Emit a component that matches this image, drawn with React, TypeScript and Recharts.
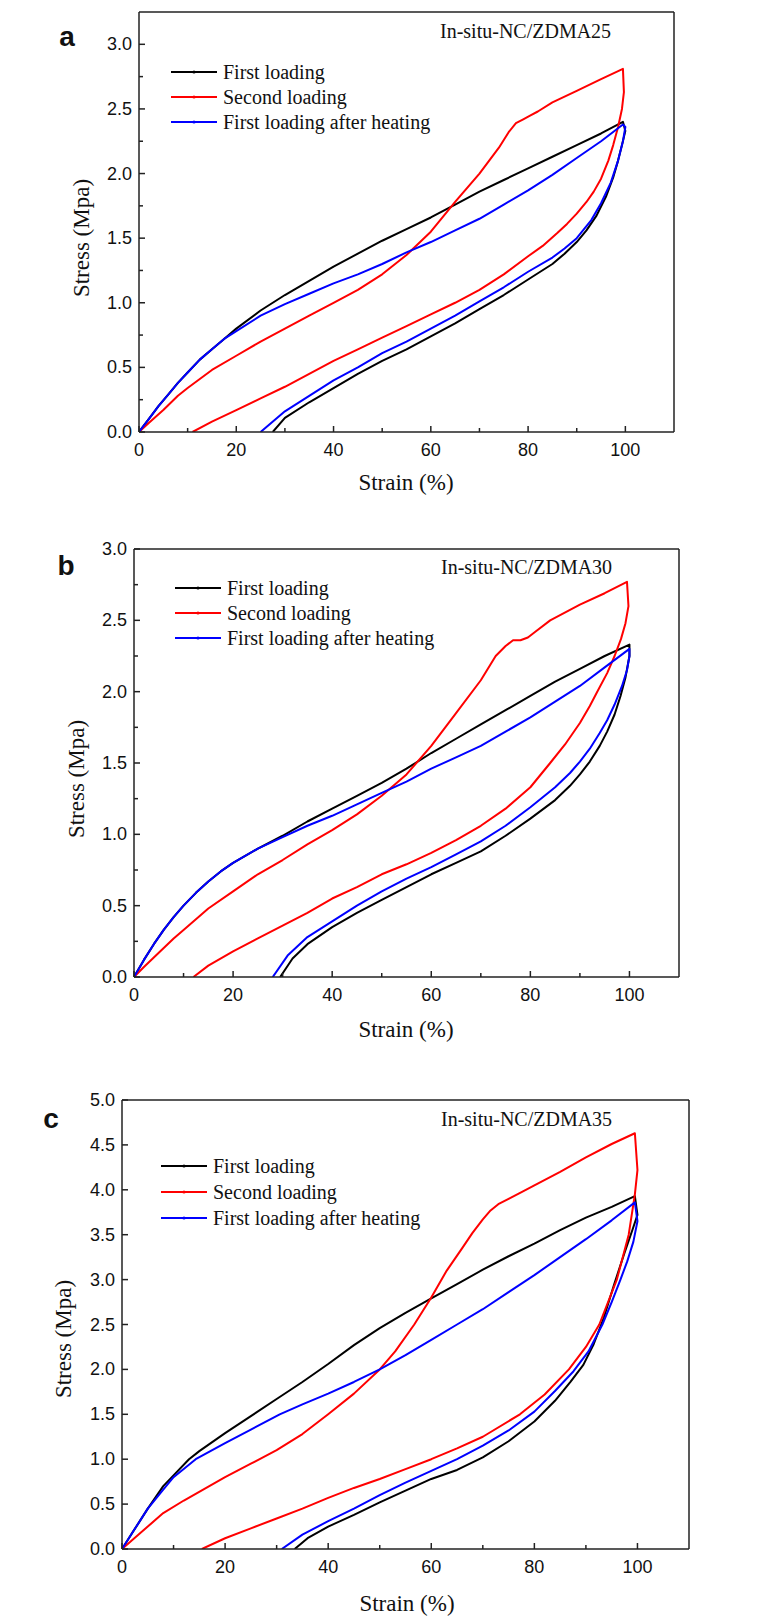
import React from "react";
import { LineChart, Line, XAxis, YAxis, ReferenceLine } from "recharts";

type Pt = [number, number];

// strain (%) / stress (MPa) pairs, loading then unloading
const A_FIRST: Pt[] = [
  [0, 0], [2, 0.1], [4, 0.2], [6, 0.29], [8, 0.38], [10, 0.46], [12.5, 0.56], [15, 0.64], [17.5, 0.72],
  [20, 0.8], [25, 0.94], [30, 1.06], [35, 1.17], [40, 1.28], [45, 1.38], [50, 1.48], [55, 1.57],
  [60, 1.66], [65, 1.76], [70, 1.86], [75, 1.95], [80, 2.04], [85, 2.13], [90, 2.22], [95, 2.31], [99.5, 2.4],
  [100, 2.33], [99.3, 2.22], [98.5, 2.1], [97.5, 1.97], [96, 1.82], [94, 1.67], [92, 1.56], [90, 1.47],
  [87.5, 1.38], [85, 1.3], [82.5, 1.24], [80, 1.18], [75, 1.06], [70, 0.95], [65, 0.84], [60, 0.74],
  [55, 0.64], [50, 0.55], [45, 0.45], [40, 0.34], [35, 0.23], [30, 0.11], [27.5, 0],
];
const A_SECOND: Pt[] = [
  [0, 0], [2, 0.07], [5, 0.17], [8, 0.28], [10, 0.34], [15, 0.48], [20, 0.59], [25, 0.7], [30, 0.8],
  [35, 0.9], [40, 1.0], [45, 1.1], [50, 1.22], [55, 1.37], [60, 1.55], [65, 1.78], [70, 2.0],
  [74, 2.2], [76, 2.32], [77.5, 2.39], [79, 2.42], [80.5, 2.45], [82, 2.48], [85, 2.55], [90, 2.64],
  [95, 2.73], [99.5, 2.81],
  [99.7, 2.63], [99.3, 2.5], [98.5, 2.36], [97.5, 2.22], [96.5, 2.1], [95, 1.96], [93.5, 1.86],
  [92, 1.78], [90, 1.69], [88, 1.61], [86, 1.54], [83, 1.44], [80, 1.36], [75, 1.22], [70, 1.1],
  [65, 1.0], [60, 0.91], [55, 0.82], [50, 0.73], [45, 0.64], [40, 0.55], [35, 0.45], [30, 0.35],
  [25, 0.26], [20, 0.17], [15, 0.08], [11, 0],
];
const A_HEATED: Pt[] = [
  [0, 0], [2, 0.1], [4, 0.2], [6, 0.29], [8, 0.38], [10, 0.46], [12.5, 0.56], [15, 0.64], [17.5, 0.72],
  [20, 0.78], [25, 0.9], [30, 0.99], [35, 1.07], [40, 1.15], [45, 1.22], [50, 1.3], [55, 1.39],
  [60, 1.47], [65, 1.56], [70, 1.65], [75, 1.76], [80, 1.87], [85, 1.99], [90, 2.12], [95, 2.25], [99.5, 2.38],
  [100, 2.36], [99.5, 2.25], [98.5, 2.1], [97, 1.93], [95, 1.77], [93, 1.64], [90, 1.5], [87.5, 1.42],
  [85, 1.35], [80, 1.24], [75, 1.12], [70, 1.01], [65, 0.9], [60, 0.8], [55, 0.7], [50, 0.61],
  [45, 0.5], [40, 0.4], [35, 0.28], [30, 0.16], [25, 0],
];

const B_FIRST: Pt[] = [
  [0, 0], [2, 0.12], [4, 0.23], [6, 0.33], [8, 0.42], [10, 0.5], [12.5, 0.59], [15, 0.67], [17.5, 0.74],
  [20, 0.8], [25, 0.9], [30, 0.99], [35, 1.09], [40, 1.18], [45, 1.27], [50, 1.36], [55, 1.46],
  [60, 1.57], [65, 1.67], [70, 1.77], [75, 1.87], [80, 1.97], [85, 2.07], [90, 2.16], [95, 2.25], [100, 2.33],
  [100, 2.25], [99.2, 2.1], [98.2, 1.97], [97, 1.84], [95.5, 1.72], [94, 1.62], [92, 1.51], [90, 1.42],
  [88, 1.34], [85, 1.24], [80, 1.11], [75, 0.99], [70, 0.88], [65, 0.8], [60, 0.72], [55, 0.63],
  [50, 0.54], [45, 0.45], [40, 0.35], [35, 0.23], [32, 0.13], [29.5, 0],
];
const B_SECOND: Pt[] = [
  [0, 0], [2, 0.07], [5, 0.17], [8, 0.27], [10, 0.33], [15, 0.48], [20, 0.6], [25, 0.72], [30, 0.82],
  [35, 0.93], [40, 1.03], [45, 1.14], [50, 1.27], [55, 1.42], [60, 1.62], [65, 1.85], [70, 2.08],
  [73, 2.25], [75, 2.32], [76.5, 2.36], [78, 2.36], [79.5, 2.38], [81, 2.42], [84, 2.5], [90, 2.61],
  [95, 2.69], [99.5, 2.77],
  [99.8, 2.6], [99.2, 2.48], [98.3, 2.37], [97, 2.25], [95.5, 2.13], [93.5, 2.0], [92, 1.9],
  [90, 1.78], [87, 1.63], [84, 1.5], [80, 1.33], [75, 1.18], [70, 1.06], [65, 0.96], [60, 0.87],
  [55, 0.79], [50, 0.72], [45, 0.63], [40, 0.55], [35, 0.45], [30, 0.36], [25, 0.27], [20, 0.18],
  [15, 0.08], [12, 0],
];
const B_HEATED: Pt[] = [
  [0, 0], [2, 0.12], [4, 0.23], [6, 0.33], [8, 0.42], [10, 0.5], [12.5, 0.59], [15, 0.67], [17.5, 0.74],
  [20, 0.8], [25, 0.9], [30, 0.98], [35, 1.06], [40, 1.13], [45, 1.21], [50, 1.29], [55, 1.37],
  [60, 1.46], [65, 1.54], [70, 1.62], [75, 1.72], [80, 1.82], [85, 1.93], [90, 2.04], [95, 2.17], [100, 2.3],
  [100, 2.25], [99.5, 2.15], [98.5, 2.04], [97, 1.91], [95.5, 1.8], [94, 1.71], [92, 1.6], [90, 1.51],
  [88, 1.43], [85, 1.33], [80, 1.19], [75, 1.06], [70, 0.95], [65, 0.86], [60, 0.77], [55, 0.69],
  [50, 0.6], [45, 0.5], [40, 0.39], [35, 0.28], [31, 0.15], [28, 0],
];

const C_FIRST: Pt[] = [
  [0, 0], [2, 0.18], [5, 0.45], [8, 0.7], [10, 0.82], [13, 1.0], [15, 1.09], [20, 1.29], [25, 1.48],
  [30, 1.67], [35, 1.86], [40, 2.06], [45, 2.27], [50, 2.46], [55, 2.63], [60, 2.79], [65, 2.95],
  [70, 3.11], [75, 3.26], [80, 3.4], [85, 3.55], [90, 3.69], [95, 3.81], [99.5, 3.93],
  [100, 3.72], [99, 3.55], [97.5, 3.3], [95.5, 2.95], [93.5, 2.58], [91.5, 2.28], [89.5, 2.05],
  [87, 1.86], [84, 1.65], [80, 1.42], [75, 1.2], [70, 1.02], [65, 0.88], [60, 0.78], [55, 0.65],
  [50, 0.52], [45, 0.38], [40, 0.25], [36, 0.12], [33.5, 0],
];
const C_SECOND: Pt[] = [
  [0, 0], [2, 0.1], [5, 0.25], [8, 0.4], [12, 0.54], [16, 0.67], [20, 0.8], [25, 0.95], [30, 1.1],
  [35, 1.28], [40, 1.5], [45, 1.73], [50, 2.0], [53, 2.2], [56.7, 2.5], [60, 2.8], [63, 3.1],
  [66, 3.35], [68, 3.52], [70, 3.67], [71.5, 3.77], [73, 3.84], [75, 3.9], [77.7, 3.98], [80, 4.05],
  [85, 4.2], [90, 4.36], [95, 4.51], [99.5, 4.63],
  [100, 4.22], [99.5, 3.95], [98.3, 3.5], [96, 3.0], [92.6, 2.5], [90, 2.25], [86.7, 2.0], [82, 1.72],
  [77.2, 1.5], [70, 1.25], [65, 1.12], [60, 1.0], [55, 0.89], [50, 0.78], [45, 0.68], [40, 0.57],
  [35, 0.45], [30, 0.34], [25, 0.23], [20, 0.12], [15.5, 0],
];
const C_HEATED: Pt[] = [
  [0, 0], [2, 0.18], [5, 0.45], [8, 0.66], [10, 0.8], [14.3, 1.0], [20, 1.18], [25, 1.33], [30.6, 1.5],
  [35, 1.61], [40, 1.73], [45, 1.86], [50, 2.0], [55, 2.16], [60, 2.33], [65, 2.5], [70, 2.67],
  [75, 2.86], [80, 3.05], [85, 3.25], [90, 3.45], [95, 3.66], [99.5, 3.86],
  [100, 3.65], [99.2, 3.42], [98, 3.2], [96.7, 3.0], [95, 2.75], [93.2, 2.5], [90.5, 2.2], [87.6, 1.98],
  [84, 1.76], [80, 1.53], [75, 1.32], [70, 1.15], [65, 1.0], [60, 0.87], [55, 0.74], [50, 0.6],
  [45, 0.45], [40, 0.31], [35, 0.16], [31, 0],
];

const SERIES_NAMES = ["First loading", "Second loading", "First loading after heating"];
const SERIES_COLORS = ["#000000", "#ff0000", "#0000ff"];
const SAMPLE_NAMES = ["In-situ-NC/ZDMA25", "In-situ-NC/ZDMA30", "In-situ-NC/ZDMA35"];
const PANEL_LETTERS = ["a", "b", "c"];
const X_TICKS = [0, 10, 20, 30, 40, 50, 60, 70, 80, 90, 100];
const Y_TICKS_3 = [0, 0.25, 0.5, 0.75, 1, 1.25, 1.5, 1.75, 2, 2.25, 2.5, 2.75, 3];
const Y_TICKS_5 = [0, 0.25, 0.5, 0.75, 1, 1.25, 1.5, 1.75, 2, 2.25, 2.5, 2.75, 3, 3.25, 3.5, 3.75, 4, 4.25, 4.5, 4.75, 5];

const SERIF = '"Liberation Serif", "Times New Roman", serif';
const SANS = '"Liberation Sans", Arial, sans-serif';
const AXIS = "#222";

const toRows = (pts: Pt[]) => pts.map(([x, y]) => ({ x, y }));

function xTick(props: any) {
  const { x, y, payload } = props;
  const v = payload.value;
  const major = v % 20 === 0;
  return (
    <g>
      <line x1={x} x2={x} y1={y} y2={y - (major ? 6 : 4)} stroke={AXIS} strokeWidth={1.5} />
      {major && (
        <text x={x} y={y + 18} textAnchor="middle" dominantBaseline="central" fontFamily={SANS} fontSize={18} fill="#111">
          {v}
        </text>
      )}
    </g>
  );
}

function yTick(props: any) {
  const { x, y, payload } = props;
  const v = payload.value;
  const major = Math.abs(v * 2 - Math.round(v * 2)) < 1e-6;
  return (
    <g>
      <line x1={x} x2={x + (major ? 6 : 4)} y1={y} y2={y} stroke={AXIS} strokeWidth={1.5} />
      {major && (
        <text x={x - 7} y={y} textAnchor="end" dominantBaseline="central" fontFamily={SANS} fontSize={18} fill="#111">
          {v.toFixed(1)}
        </text>
      )}
    </g>
  );
}

interface PanelProps {
  top: number;
  height: number;
  margin: { top: number; right: number; bottom: number; left: number };
  yMax: number;
  yTicks: number[];
  series: Pt[][];
}

function Panel({ top, height, margin, yMax, yTicks, series }: PanelProps) {
  return (
    <div style={{ position: "absolute", left: 0, top }}>
      <LineChart width={769} height={height} margin={margin}>
        <XAxis
          type="number"
          dataKey="x"
          domain={[0, 110]}
          ticks={X_TICKS}
          tick={xTick}
          tickLine={false}
          tickSize={0}
          tickMargin={0}
          height={30}
          axisLine={{ stroke: AXIS, strokeWidth: 1.5 }}
          allowDataOverflow
        />
        <YAxis
          type="number"
          domain={[0, yMax]}
          ticks={yTicks}
          tick={yTick}
          tickLine={false}
          tickSize={0}
          tickMargin={0}
          width={60}
          axisLine={{ stroke: AXIS, strokeWidth: 1.5 }}
          allowDataOverflow
        />
        <ReferenceLine y={yMax} stroke={AXIS} strokeWidth={1.5} />
        <ReferenceLine x={110} stroke={AXIS} strokeWidth={1.5} />
        {series.map((pts, i) => (
          <Line
            key={SERIES_NAMES[i]}
            name={SERIES_NAMES[i]}
            data={toRows(pts)}
            dataKey="y"
            type="linear"
            stroke={SERIES_COLORS[i]}
            strokeWidth={2}
            strokeLinejoin="round"
            dot={false}
            isAnimationActive={false}
          />
        ))}
      </LineChart>
    </div>
  );
}

// page positions of the text around each panel
const LAYOUT = [
  { letter: [67, 36], sample: [440, 31], legend: [171, 72, 25], xTitle: [406, 482], yTitle: [81, 238] },
  { letter: [66, 565], sample: [441, 567], legend: [175, 588, 25], xTitle: [406, 1029], yTitle: [76, 779] },
  { letter: [51, 1118], sample: [441, 1119], legend: [161, 1166, 26], xTitle: [407, 1603], yTitle: [63, 1339] },
];

function Overlay() {
  return (
    <svg width={769} height={1622} style={{ position: "absolute", left: 0, top: 0, pointerEvents: "none" }}>
      {LAYOUT.map((l, p) => (
        <g key={p}>
          <text x={l.letter[0]} y={l.letter[1]} textAnchor="middle" dominantBaseline="central" fontFamily={SANS} fontSize={28} fontWeight="bold" fill="#111">
            {PANEL_LETTERS[p]}
          </text>
          <text x={l.sample[0]} y={l.sample[1]} dominantBaseline="central" fontFamily={SERIF} fontSize={20} fill="#111">
            {SAMPLE_NAMES[p]}
          </text>
          {SERIES_NAMES.map((name, i) => {
            const ly = l.legend[1] + i * l.legend[2];
            return (
              <g key={name}>
                <line x1={l.legend[0]} x2={l.legend[0] + 46} y1={ly} y2={ly} stroke={SERIES_COLORS[i]} strokeWidth={2} />
                <circle cx={l.legend[0] + 23} cy={ly} r={1.6} fill={SERIES_COLORS[i]} />
                <text x={l.legend[0] + 52} y={ly} dominantBaseline="central" fontFamily={SERIF} fontSize={20} fill="#111">
                  {name}
                </text>
              </g>
            );
          })}
          <text x={l.xTitle[0]} y={l.xTitle[1]} textAnchor="middle" dominantBaseline="central" fontFamily={SERIF} fontSize={23} fill="#111">
            Strain (%)
          </text>
          <text
            x={l.yTitle[0]}
            y={l.yTitle[1]}
            textAnchor="middle"
            dominantBaseline="central"
            fontFamily={SERIF}
            fontSize={23}
            fill="#111"
            transform={`rotate(-90 ${l.yTitle[0]} ${l.yTitle[1]})`}
          >
            Stress (Mpa)
          </text>
        </g>
      ))}
    </svg>
  );
}

export default function App() {
  return (
    <div style={{ position: "absolute", left: 0, top: 0, width: 769, height: 1622, background: "#fff" }}>
      <Panel
        top={0}
        height={500}
        margin={{ top: 12, right: 95, bottom: 38, left: 79 }}
        yMax={3.25}
        yTicks={Y_TICKS_3}
        series={[A_FIRST, A_SECOND, A_HEATED]}
      />
      <Panel
        top={540}
        height={500}
        margin={{ top: 9, right: 90, bottom: 33, left: 74 }}
        yMax={3}
        yTicks={Y_TICKS_3}
        series={[B_FIRST, B_SECOND, B_HEATED]}
      />
      <Panel
        top={1080}
        height={542}
        margin={{ top: 20, right: 80, bottom: 43, left: 62 }}
        yMax={5}
        yTicks={Y_TICKS_5}
        series={[C_FIRST, C_SECOND, C_HEATED]}
      />
      <Overlay />
    </div>
  );
}
